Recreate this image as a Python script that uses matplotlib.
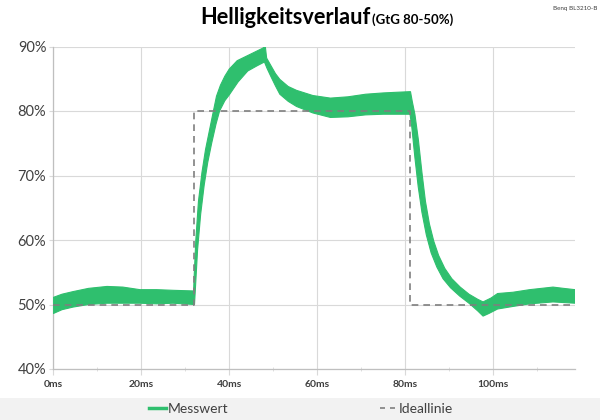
import matplotlib
matplotlib.use("Agg")
import matplotlib.pyplot as plt
from matplotlib.lines import Line2D
from matplotlib.patches import Rectangle
from matplotlib.ticker import MultipleLocator, FuncFormatter

plt.rcParams['font.family'] = ['Lato', 'DejaVu Sans']

# Messwert: the noisy band, read as an upper and a lower edge (time in ms, brightness in %)
t_upper = [0.0, 2.0, 4.5, 8.0, 12.2, 15.8, 19.7, 23.5, 27.2, 31.9,
           32.0, 32.4, 33.0, 33.8, 34.6, 35.5, 36.4, 37.1, 38.0, 39.0,
           40.0, 41.8, 44.2, 46.3, 47.5, 48.2, 48.5, 49.5, 50.5, 51.5,
           53.4, 55.3, 59.0, 63.0, 67.0, 71.0, 75.0, 78.0, 81.2,
           81.6, 82.2, 83.0, 83.8, 84.6, 85.5, 86.5, 87.6, 89.0, 90.6,
           92.5, 94.5, 96.5, 97.7,
           99.5, 101.0, 104.5, 108.3, 113.6, 116.0, 118.6]
v_upper = [51.1, 51.6, 52.0, 52.5, 52.8, 52.7, 52.3, 52.3, 52.2, 52.1,
           54.0, 60.0, 66.0, 70.5, 74.0, 77.0, 80.0, 82.3, 84.0, 85.4,
           86.5, 87.8, 88.6, 89.3, 89.7, 90.0, 88.2, 87.0, 85.8, 84.9,
           83.8, 83.2, 82.4, 82.0, 82.2, 82.6, 82.8, 82.9, 83.0,
           81.5, 79.5, 75.5, 70.5, 66.0, 62.5, 59.8, 57.6, 55.6, 54.0,
           52.7, 51.6, 50.8, 50.4,
           51.0, 51.7, 51.9, 52.3, 52.7, 52.5, 52.3]

t_lower = [0.0, 2.0, 4.5, 8.0, 12.2, 15.8, 19.7, 23.5, 27.2, 32.1,
           32.8, 33.5, 34.3, 35.1, 36.0, 37.0, 37.8, 39.0, 40.0, 42.0,
           44.2, 46.3, 48.0, 48.6, 49.5, 50.5, 51.5, 53.4, 55.3, 59.0,
           63.0, 67.0, 71.0, 75.0, 78.0, 81.1,
           81.5, 82.2, 82.95, 83.8, 84.8, 85.9, 87.2, 88.6, 90.3, 92.4,
           94.5, 96.5, 97.7,
           99.0, 101.0, 104.5, 108.3, 113.6, 118.6]
v_lower = [48.6, 49.2, 49.6, 50.0, 50.2, 50.2, 50.2, 50.1, 50.2, 50.0,
           58.5, 64.0, 68.5, 72.0, 75.0, 78.0, 80.0, 81.6, 82.5, 84.5,
           86.2, 87.0, 87.6, 86.6, 85.3, 83.9, 82.6, 81.5, 80.7, 79.7,
           79.0, 79.1, 79.4, 79.5, 79.5, 79.5,
           77.5, 72.8, 68.3, 64.3, 60.8, 58.0, 55.8, 54.0, 52.6, 51.3,
           50.2, 49.0, 48.2,
           48.6, 49.3, 49.7, 50.1, 50.4, 50.2]

# Ideallinie
t_ideal = [0.0, 32.0, 32.0, 81.1, 81.1, 118.6]
v_ideal = [50, 50, 80, 80, 50, 50]

x_ticks = [0, 20, 40, 60, 80, 100]
y_ticks = [40, 50, 60, 70, 80, 90]

green = "#2fbf6e"
txt = "#404040"

fig = plt.figure(figsize=(6, 4.2), dpi=100)
ax = fig.add_axes([53.3 / 600, 1 - 369 / 420, (575 - 53.3) / 600, (369 - 46.5) / 420])

# outline of the band: upper edge forward, lower edge back
poly_t = t_upper + t_lower[::-1]
poly_v = v_upper + v_lower[::-1]
ax.fill(poly_t, poly_v, color=green, lw=0.8, edgecolor=green, zorder=3)
ax.plot(t_ideal, v_ideal, color="#7f7f7f", lw=1.2, ls=(0, (4, 3)), zorder=4)

ax.set_xlim(0, 118.6)
ax.set_ylim(40, 90)
ax.set_xticks(x_ticks)
ax.set_yticks(y_ticks)
ax.xaxis.set_minor_locator(MultipleLocator(10))
ax.xaxis.set_major_formatter(FuncFormatter(lambda v, p: "%dms" % v))
ax.yaxis.set_major_formatter(FuncFormatter(lambda v, p: "%d%%" % v))

ax.grid(True, color="#d9d9d9", lw=0.8, zorder=0)
ax.set_axisbelow(True)
for s in ["top", "right"]:
    ax.spines[s].set_visible(False)
for s in ["left", "bottom"]:
    ax.spines[s].set_color("#bfbfbf")
    ax.spines[s].set_linewidth(0.9)

ax.tick_params(axis="x", which="major", length=4, color="#d9d9d9", labelsize=7.5,
               labelcolor=txt, pad=4)
ax.tick_params(axis="x", which="minor", length=3, direction="inout", color="#d9d9d9")
ax.tick_params(axis="y", length=3, color="#d9d9d9", labelsize=10.5, labelcolor=txt, pad=2)
for lab in ax.get_xticklabels():
    lab.set_fontweight("bold")

# title
fig.text(0.617, 0.958, "Helligkeitsverlauf", ha="right", va="center",
         fontsize=15.7, fontweight="bold", color="black")
fig.text(0.620, 0.953, "(GtG 80-50%)", ha="left", va="center",
         fontsize=9.5, fontweight="bold", color="black")
fig.text(0.995, 0.985, "Benq BL3210-B", ha="right", va="top", fontsize=4.5, color=txt)

# legend band
fig.patches.append(Rectangle((0, 0), 1, 22 / 420, transform=fig.transFigure,
                             facecolor="#f2f2f2", edgecolor="none", zorder=0))
handles = [Line2D([], [], color=green, lw=2.5),
           Line2D([], [], color="#7f7f7f", lw=1.2, ls=(0, (3, 3)))]
fig.legend(handles, ["Messwert", "Ideallinie"], loc="center", bbox_to_anchor=(0.502, 11 / 420),
           ncol=2, frameon=False, fontsize=10, handlelength=1.2, handletextpad=0.15,
           columnspacing=10.9, labelcolor=txt)

fig.savefig("out.png", dpi=100)
